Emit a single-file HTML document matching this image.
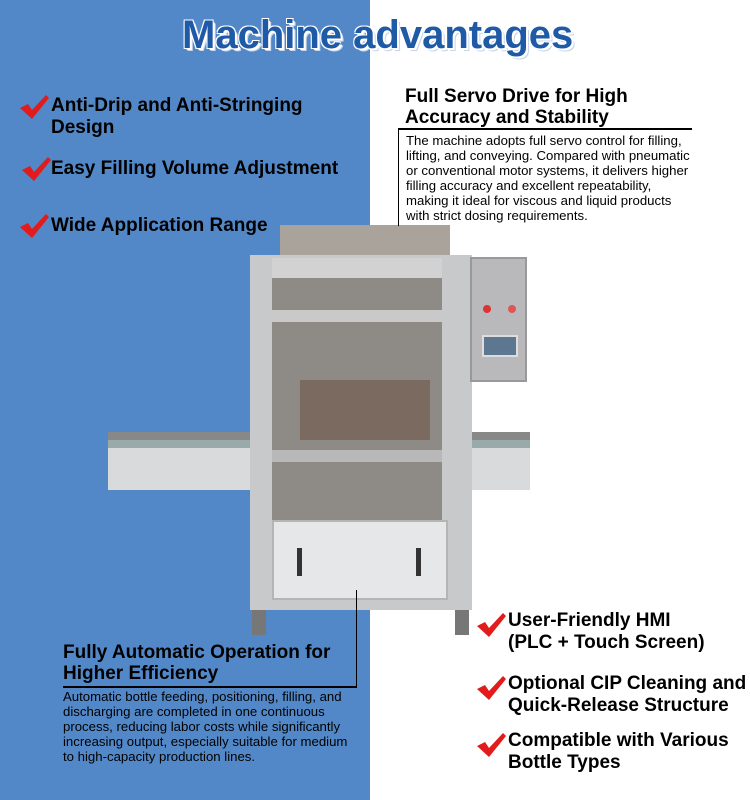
<!DOCTYPE html>
<html><head><style>
*{margin:0;padding:0;box-sizing:border-box}
body{width:750px;height:800px;position:relative;overflow:hidden;background:#fff;font-family:"Liberation Sans",sans-serif}
.blue{position:absolute;left:0;top:0;width:370px;height:800px;background:#5288c8}
.t{position:absolute;white-space:nowrap}
.title{left:182px;top:13px;font-size:40px;font-weight:bold;color:#1f5aa6;text-shadow:2px 2px 0 #fff,-1px -1px 0 #fff,1px -1px 0 #fff,-1px 1px 0 #fff,3px 3px 0 #c9d6e8}
.b{font-size:19px;font-weight:bold;color:#000;line-height:22px}
.ck{position:absolute;width:30px;height:26px}
.h{font-size:19px;font-weight:bold;line-height:21px;color:#000}
.p{font-size:13.2px;line-height:15px;color:#000}
.ln{position:absolute;background:#000}
.m{position:absolute}
</style></head><body>
<div class="blue"></div>
<div class="t title">Machine advantages</div>

<svg width="0" height="0" style="position:absolute"><defs><path id="c" d="M0 13 L8 9 L12 15 L26 0 L29 3 L12 24 Z" fill="#e21b1b"/></defs></svg>
<svg class="ck" style="left:20px;top:95px"><use href="#c"/></svg>
<div class="t b" style="left:51px;top:95px">Anti-Drip and Anti-Stringing<br>Design</div>
<svg class="ck" style="left:22px;top:157px"><use href="#c"/></svg>
<div class="t b" style="left:51px;top:158px">Easy Filling Volume Adjustment</div>
<svg class="ck" style="left:20px;top:214px"><use href="#c"/></svg>
<div class="t b" style="left:51px;top:215px">Wide Application Range</div>

<!-- machine -->
<div class="m" style="left:108px;top:432px;width:422px;height:58px;background:#d8dadc;border-top:8px solid #888"></div>
<div class="m" style="left:108px;top:440px;width:422px;height:8px;background:#9aa"></div>
<div class="m" style="left:280px;top:225px;width:170px;height:35px;background:#a9a39b"></div>
<div class="m" style="left:250px;top:255px;width:222px;height:355px;background:#c8c9cb"></div>
<div class="m" style="left:272px;top:258px;width:170px;height:262px;background:#8e8a86"></div>
<div class="m" style="left:272px;top:258px;width:170px;height:20px;background:#d2d2d2"></div>
<div class="m" style="left:272px;top:310px;width:170px;height:12px;background:#c9c9c9"></div>
<div class="m" style="left:300px;top:380px;width:130px;height:60px;background:#7a6a60"></div>
<div class="m" style="left:272px;top:450px;width:170px;height:12px;background:#b8b8b8"></div>
<div class="m" style="left:272px;top:520px;width:176px;height:80px;background:#e6e7e8;border:2px solid #b5b5b5"></div>
<div class="m" style="left:297px;top:548px;width:5px;height:28px;background:#333"></div>
<div class="m" style="left:416px;top:548px;width:5px;height:28px;background:#333"></div>
<div class="m" style="left:470px;top:257px;width:57px;height:125px;background:#b9b9bb;border:2px solid #999"></div>
<div class="m" style="left:482px;top:335px;width:36px;height:22px;background:#5d7790;border:2px solid #ddd"></div>
<div class="m" style="left:483px;top:305px;width:8px;height:8px;background:#d33;border-radius:50%"></div>
<div class="m" style="left:508px;top:305px;width:8px;height:8px;background:#d55;border-radius:50%"></div>
<div class="m" style="left:252px;top:610px;width:14px;height:25px;background:#777"></div>
<div class="m" style="left:455px;top:610px;width:14px;height:25px;background:#777"></div>

<!-- servo box -->
<div class="t h" style="left:405px;top:86px">Full Servo Drive for High<br>Accuracy and Stability</div>
<div class="ln" style="left:398px;top:128px;width:294px;height:2px"></div>
<div class="ln" style="left:398px;top:128px;width:1px;height:98px"></div>
<div class="t p" style="left:406px;top:133px">The machine adopts full servo control for filling,<br>lifting, and conveying. Compared with pneumatic<br>or conventional motor systems, it delivers higher<br>filling accuracy and excellent repeatability,<br>making it ideal for viscous and liquid products<br>with strict dosing requirements.</div>

<!-- bottom box -->
<div class="ln" style="left:356px;top:590px;width:1px;height:97px"></div>
<div class="ln" style="left:63px;top:686px;width:294px;height:2px"></div>
<div class="t h" style="left:63px;top:642px">Fully Automatic Operation for<br>Higher Efficiency</div>
<div class="t p" style="left:63px;top:689px">Automatic bottle feeding, positioning, filling, and<br>discharging are completed in one continuous<br>process, reducing labor costs while significantly<br>increasing output, especially suitable for medium<br>to high-capacity production lines.</div>

<svg class="ck" style="left:477px;top:613px"><use href="#c"/></svg>
<div class="t b" style="left:508px;top:610px">User-Friendly HMI<br>(PLC + Touch Screen)</div>
<svg class="ck" style="left:477px;top:676px"><use href="#c"/></svg>
<div class="t b" style="left:508px;top:673px">Optional CIP Cleaning and<br>Quick-Release Structure</div>
<svg class="ck" style="left:477px;top:733px"><use href="#c"/></svg>
<div class="t b" style="left:508px;top:730px">Compatible with Various<br>Bottle Types</div>
</body></html>
